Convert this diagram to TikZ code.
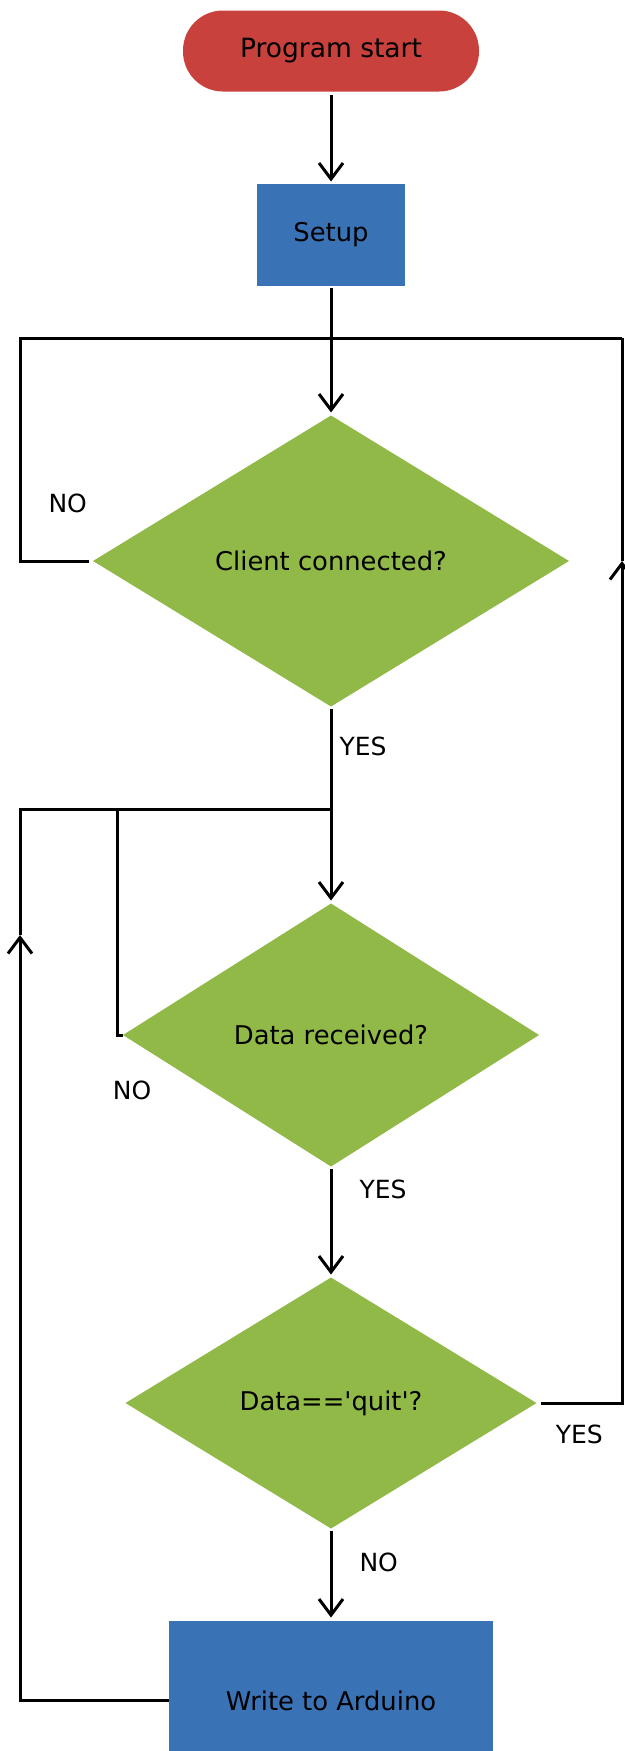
\documentclass[tikz,border=0pt]{standalone}
\usepackage{fontspec}
\setmainfont{DejaVu Sans}
\usetikzlibrary{positioning,arrows.meta,shapes.geometric}
\definecolor{startred}{HTML}{C8413C}
\definecolor{boxblue}{HTML}{3A72B6}
\definecolor{askgreen}{HTML}{91B948}
\begin{document}
\begin{tikzpicture}[x=1pt,y=-1pt, >={Straight Barb[length=16pt,width=24pt]}, line width=3pt,
  font=\fontsize{25.8}{30}\selectfont,
  term/.style={fill=startred,rounded corners=40pt,outer sep=0pt,minimum width=296pt,minimum height=81pt,
    font=\fontsize{26.5}{30}\selectfont},
  proc/.style={fill=boxblue,outer sep=0pt,minimum height=102pt},
  ask/.style={diamond,fill=askgreen,inner sep=0pt,outer sep=0pt},
  lbl/.style={inner sep=0pt,font=\fontsize{25}{30}\selectfont}]
  \useasboundingbox (0,0) rectangle (624,1751);
  \node[term](start) at (331,51){Program start};
  \node[proc,minimum width=148pt,below=92pt of start](setup){Setup};
  \node[ask,minimum width=476pt,minimum height=291pt,below=130pt of setup](conn){Client connected?};
  \node[ask,minimum width=416pt,minimum height=263pt,below=197pt of conn](recv){Data received?};
  \node[ask,minimum width=411pt,minimum height=251pt,below=111pt of recv](quit){Data==\textquotesingle quit\textquotesingle?};
  \node[proc,minimum width=324pt,minimum height=160pt,below=92pt of quit](write){Write to Arduino};
  % loop corners
  \coordinate(lt) at (20,338); \coordinate(rt) at (622,338); \coordinate(rm) at (622,561);
  \coordinate(jl) at (20,809); \coordinate(jm) at (117,809); \coordinate(jn) at (331,809);
  \coordinate(lu) at (20,935);
  \draw[->,shorten <=3pt,shorten >=2pt](start)--(setup);
  \draw[->,shorten <=2pt,shorten >=3pt](setup)--(conn);
  \draw[shorten <=4pt](conn.west)-|(lt) node[lbl,pos=.63,right=27pt]{NO} --(rt);
  \draw[->,shorten <=4pt](quit.east)-|(rm) node[lbl,pos=.25,below=20pt]{YES};
  \draw(rm)--(rt);
  \draw[->,shorten <=2pt,shorten >=3pt](conn)--(recv) node[lbl,pos=.2,right=7pt]{YES};
  \draw(recv.west) node[lbl,below=44pt,xshift=9pt]{NO} -|(jm);
  \draw[->,shorten <=2pt,shorten >=3pt](recv)--(quit) node[lbl,pos=.21,right=27pt]{YES};
  \draw[->,shorten <=2pt,shorten >=3pt](quit)--(write) node[lbl,pos=.37,right=27pt]{NO};
  \draw[->](write.west)-|(lu);
  \draw(lu)--(jl)--(jn);
\end{tikzpicture}
\end{document}
